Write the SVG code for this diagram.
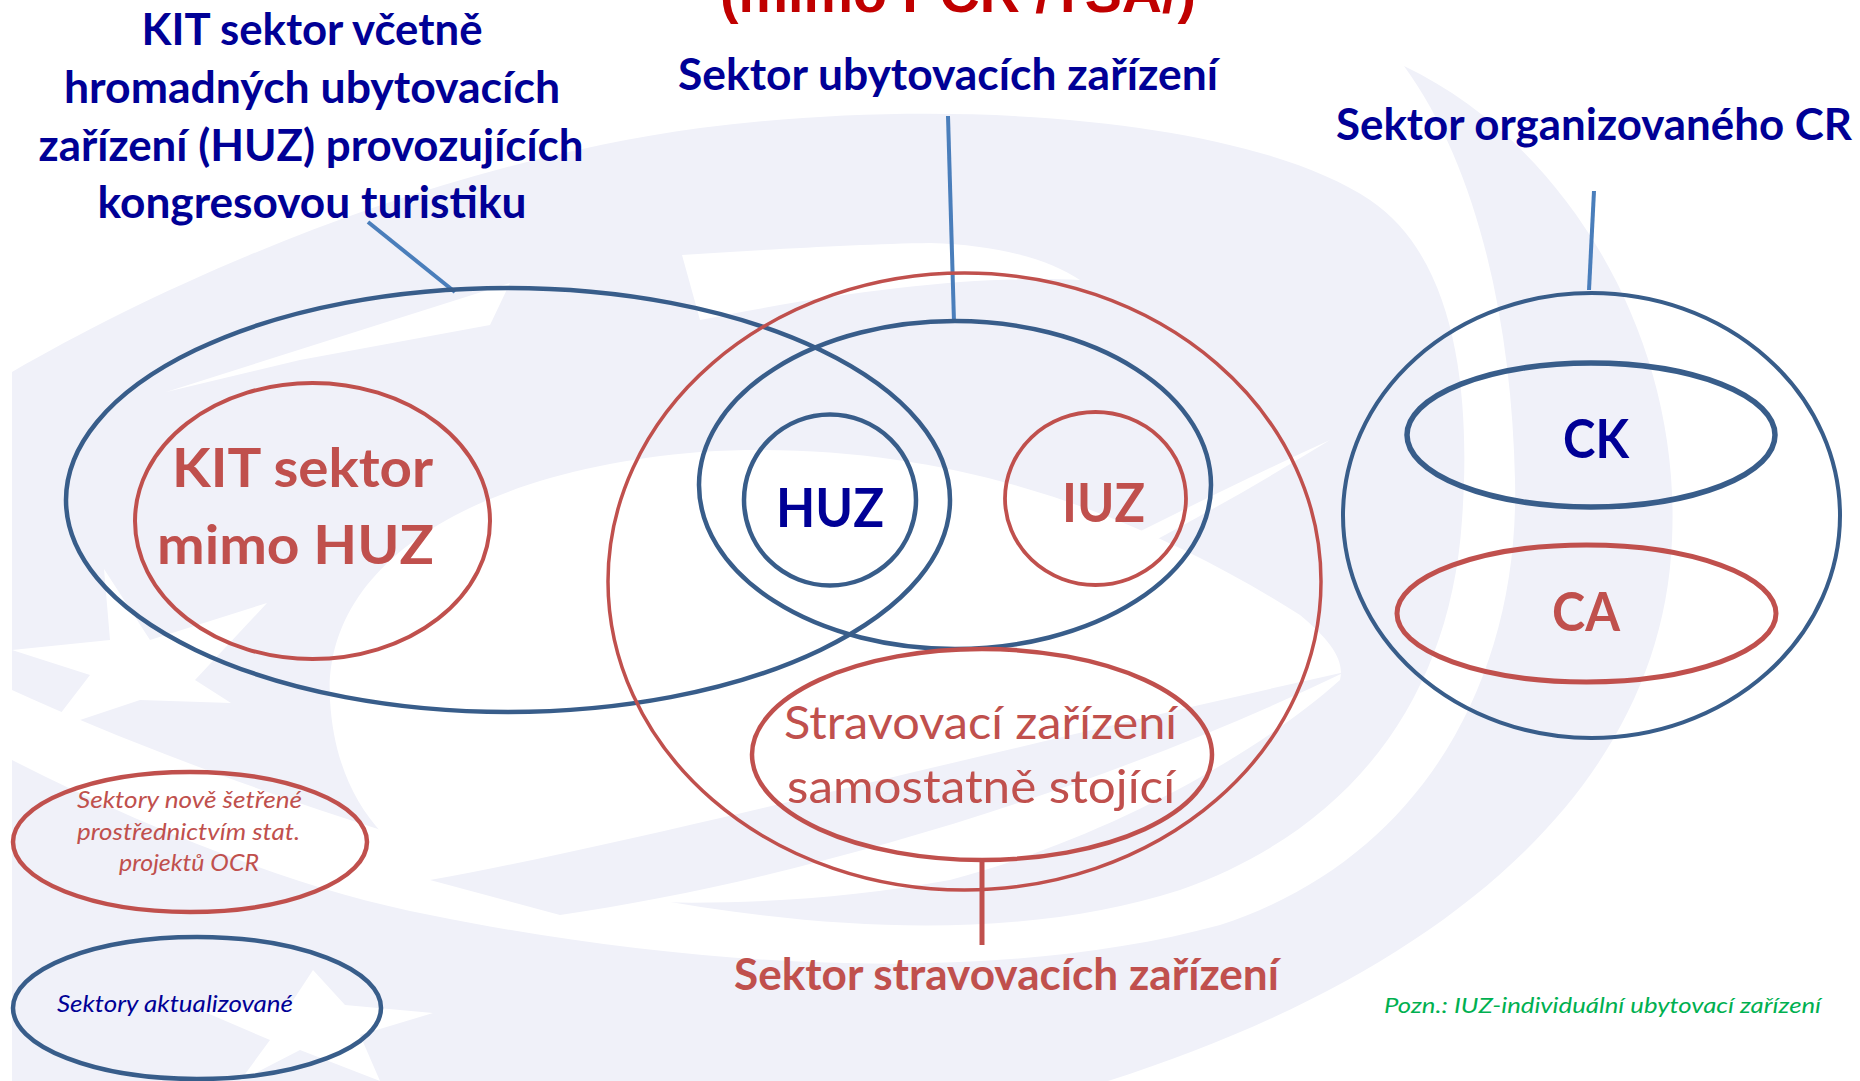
<svg xmlns="http://www.w3.org/2000/svg" width="1860" height="1081" viewBox="0 0 1860 1081">
<defs>
<style>
.bg{fill:#f0f1f9}
.wh{fill:#ffffff}
.eb{fill:none;stroke:#385d8a}
.er{fill:none;stroke:#c0504d}
.hd{font-family:Lato,"Liberation Sans",sans-serif;font-weight:700;fill:#000096}
.nb{font-family:Lato,"Liberation Sans",sans-serif;font-weight:700;fill:#000096}
.nr{font-family:Lato,"Liberation Sans",sans-serif;font-weight:700;fill:#c0504d}
.rr{font-family:Lato,"Liberation Sans",sans-serif;font-weight:400;fill:#c0504d}
.it{font-family:Lato,"Liberation Sans",sans-serif;font-style:italic;font-weight:400}
.cn{stroke:#4a7ebb;stroke-width:4;fill:none}
</style>
<clipPath id="wmclip"><rect x="12" y="0" width="1848" height="1081"/></clipPath>
</defs>
<rect width="1860" height="1081" fill="#ffffff"/>
<g id="watermark" clip-path="url(#wmclip)">
<path class="bg" d="M12,372 C170,280 430,165 700,128 C960,95 1250,120 1370,200 C1462,262 1470,410 1462,520 C1450,700 1350,830 1180,890 C980,955 700,925 430,845 C280,800 120,740 12,690 Z"/>
<path class="bg" d="M1404,66 C1560,140 1682,330 1672,540 C1662,790 1440,975 1108,1081 L12,1081 L12,760 C150,830 300,890 430,915 C700,970 1000,985 1220,925 C1420,860 1520,680 1515,480 C1512,330 1480,170 1404,66 Z"/>
<path class="wh" d="M330,700 C322,560 480,470 700,452 C950,436 1150,520 1300,615 C1330,640 1345,660 1340,680 C1250,760 1100,840 950,880 C760,915 560,905 450,880 C380,850 335,790 330,700 Z"/>
<path class="bg" d="M430,880 C650,840 950,760 1345,672 C1100,790 800,880 560,915 Z"/>
<path class="wh" d="M1330,440 C1200,520 1050,600 900,660 L930,640 C1060,570 1200,500 1330,440 Z"/>
<path class="wh" d="M682,255 C760,250 860,244 930,243 C1000,245 1050,260 1080,280 C980,275 850,290 700,320 Z"/>
<polygon class="wh" points="166,392 510,283 490,325 300,360"/>
<polygon class="wh" points="104,569 150,640 267,603 195,680 231,703 140,700 47,731 90,675 12,650 110,640"/>
<polygon class="wh" points="313,970 345,1005 433,1013 360,1035 380,1081 300,1050 240,1081 270,1040 200,1010 290,1005"/>
</g>
<g id="connectors">
<line class="cn" x1="368" y1="222" x2="455" y2="292"/>
<line class="cn" x1="948" y1="116" x2="954" y2="322"/>
<line class="cn" x1="1594" y1="191" x2="1589" y2="290"/>
<line x1="982" y1="862" x2="982" y2="945" stroke="#c0504d" stroke-width="5"/>
</g>
<g id="title">
<text x="720" y="12" font-family="'Liberation Sans',Arial,sans-serif" font-weight="700" font-size="55" fill="#c00000" textLength="476" lengthAdjust="spacingAndGlyphs">(mimo PCR /TSA/)</text>
</g>
<g id="label-kit-heading">
<text class="hd" font-size="43" text-anchor="middle" x="312" y="45" textLength="341" lengthAdjust="spacingAndGlyphs">KIT sektor včetně</text>
<text class="hd" font-size="43" text-anchor="middle" x="312" y="103" textLength="496" lengthAdjust="spacingAndGlyphs">hromadných ubytovacích</text>
<text class="hd" font-size="43" text-anchor="middle" x="311" y="161" textLength="545" lengthAdjust="spacingAndGlyphs">zařízení (HUZ) provozujících</text>
<text class="hd" font-size="43" text-anchor="middle" x="312" y="218" textLength="429" lengthAdjust="spacingAndGlyphs">kongresovou turistiku</text>
</g>
<g id="label-ubytovaci">
<text class="hd" font-size="43" text-anchor="middle" x="948" y="90" textLength="540" lengthAdjust="spacingAndGlyphs">Sektor ubytovacích zařízení</text>
</g>
<g id="label-organizovany">
<text class="hd" font-size="43" text-anchor="middle" x="1594" y="140" textLength="516" lengthAdjust="spacingAndGlyphs">Sektor organizovaného CR</text>
</g>
<g id="node-kit">
<ellipse class="eb" stroke-width="4.5" cx="508" cy="500" rx="442" ry="212"/>
</g>
<g id="node-kit-mimo-huz">
<ellipse class="er" stroke-width="4" cx="312.5" cy="521" rx="177.5" ry="138"/>
<text class="nr" font-size="54" text-anchor="middle" x="302.5" y="487" textLength="261" lengthAdjust="spacingAndGlyphs">KIT sektor</text>
<text class="nr" font-size="54" text-anchor="middle" x="295.5" y="564" textLength="277" lengthAdjust="spacingAndGlyphs">mimo HUZ</text>
</g>
<g id="node-stravovaci-sektor">
<ellipse class="er" stroke-width="3.5" cx="964.5" cy="581.5" rx="356.5" ry="308.5"/>
</g>
<g id="node-ubytovaci">
<ellipse class="eb" stroke-width="4.5" cx="955" cy="485" rx="256" ry="164"/>
</g>
<g id="node-huz">
<ellipse class="eb" stroke-width="4.5" cx="830" cy="500" rx="86" ry="85.5"/>
<text class="nb" font-size="54" text-anchor="middle" x="830" y="527" textLength="108" lengthAdjust="spacingAndGlyphs">HUZ</text>
</g>
<g id="node-iuz">
<ellipse class="er" stroke-width="3.8" cx="1095.5" cy="498.5" rx="90.5" ry="86.5"/>
<text class="nr" font-size="54" text-anchor="middle" x="1103.5" y="522" textLength="83" lengthAdjust="spacingAndGlyphs">IUZ</text>
</g>
<g id="node-stravovaci">
<ellipse class="er" stroke-width="4.5" cx="982" cy="754.5" rx="230" ry="105.5"/>
<text class="rr" font-size="47" text-anchor="middle" x="980.5" y="739" textLength="393" lengthAdjust="spacingAndGlyphs">Stravovací zařízení</text>
<text class="rr" font-size="47" text-anchor="middle" x="981" y="803" textLength="388" lengthAdjust="spacingAndGlyphs">samostatně stojící</text>
</g>
<g id="label-stravovaci">
<text class="nr" font-size="43" text-anchor="middle" x="1006.5" y="990" textLength="545" lengthAdjust="spacingAndGlyphs">Sektor stravovacích zařízení</text>
</g>
<g id="node-organizovany">
<ellipse class="eb" stroke-width="4" cx="1591.5" cy="515.5" rx="248.5" ry="222.5"/>
</g>
<g id="node-ck">
<ellipse class="eb" stroke-width="5.5" cx="1591" cy="435" rx="184" ry="72"/>
<text class="nb" font-size="54" text-anchor="middle" x="1596" y="458" textLength="66" lengthAdjust="spacingAndGlyphs">CK</text>
</g>
<g id="node-ca">
<ellipse class="er" stroke-width="5" cx="1586.5" cy="613.5" rx="189.5" ry="68.5"/>
<text class="nr" font-size="54" text-anchor="middle" x="1586" y="631" textLength="68" lengthAdjust="spacingAndGlyphs">CA</text>
</g>
<g id="legend-new">
<ellipse class="er" stroke-width="4.5" cx="190" cy="842" rx="177" ry="70"/>
<text class="it" fill="#c0504d" font-size="23" text-anchor="middle" x="189.5" y="808" textLength="225" lengthAdjust="spacingAndGlyphs">Sektory nově šetřené</text>
<text class="it" fill="#c0504d" font-size="23" text-anchor="middle" x="188.5" y="840" textLength="223" lengthAdjust="spacingAndGlyphs">prostřednictvím stat.</text>
<text class="it" fill="#c0504d" font-size="23" text-anchor="middle" x="189" y="871" textLength="140" lengthAdjust="spacingAndGlyphs">projektů OCR</text>
</g>
<g id="legend-updated">
<ellipse class="eb" stroke-width="4.5" cx="197" cy="1008" rx="184" ry="71"/>
<text class="it" fill="#000096" font-size="23" text-anchor="middle" x="175" y="1012" textLength="236" lengthAdjust="spacingAndGlyphs">Sektory aktualizované</text>
</g>
<g id="note">
<text class="it" fill="#00b050" font-size="22" text-anchor="middle" x="1602.5" y="1013" textLength="437" lengthAdjust="spacingAndGlyphs">Pozn.: IUZ-individuální ubytovací zařízení</text>
</g>
</svg>
